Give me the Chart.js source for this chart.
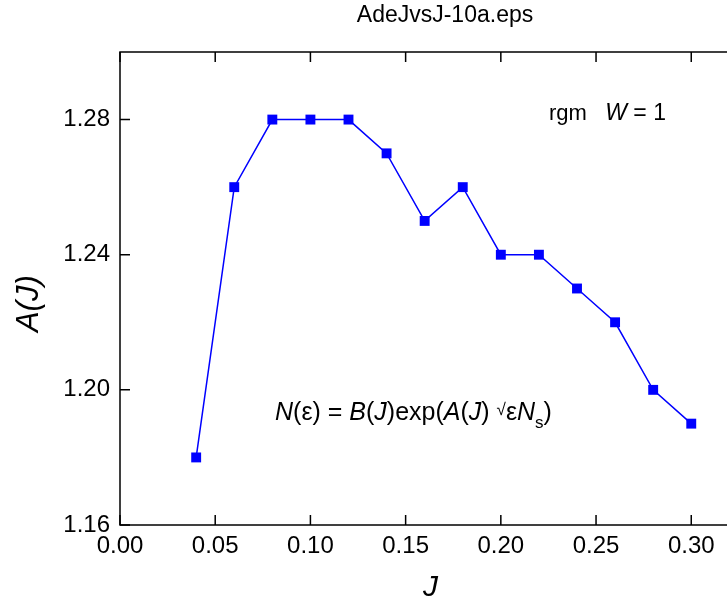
<!DOCTYPE html>
<html>
<head>
<meta charset="UTF-8">
<title>AdeJvsJ-10a</title>
<script src="https://cdn.jsdelivr.net/npm/chart.js"></script>
<style>
  html, body { margin: 0; padding: 0; background: #fff; overflow: hidden; }
  #wrap { width: 890px; height: 605px; }
</style>
</head>
<body>
<div id="wrap"><canvas id="chart"></canvas></div>
<script>
const jValues = [0.04, 0.06, 0.08, 0.10, 0.12, 0.14, 0.16, 0.18, 0.20, 0.22, 0.24, 0.26, 0.28, 0.30];
const aValues = [1.18, 1.26, 1.28, 1.28, 1.28, 1.27, 1.25, 1.26, 1.24, 1.24, 1.23, 1.22, 1.20, 1.19];
const xTicks = [0.00, 0.05, 0.10, 0.15, 0.20, 0.25, 0.30];
const yTicks = [1.16, 1.20, 1.24, 1.28];

const FONT = "'Liberation Sans', Arial, sans-serif";

// frame, inward ticks, axis titles and the two text labels
const decor = {
  id: "decor",
  afterDraw(chart) {
    const ctx = chart.ctx;
    const a = chart.chartArea;
    const x = chart.scales.x, y = chart.scales.y;
    ctx.save();
    ctx.strokeStyle = "#000";
    ctx.lineWidth = 1.5;
    ctx.strokeRect(a.left, a.top, a.right - a.left, a.bottom - a.top);
    ctx.beginPath();
    xTicks.forEach(v => {
      const px = x.getPixelForValue(v);
      ctx.moveTo(px, a.bottom); ctx.lineTo(px, a.bottom - 10);
      ctx.moveTo(px, a.top); ctx.lineTo(px, a.top + 10);
    });
    yTicks.forEach(v => {
      const py = y.getPixelForValue(v);
      ctx.moveTo(a.left, py); ctx.lineTo(a.left + 10, py);
    });
    ctx.stroke();

    ctx.fillStyle = "#000";
    ctx.textBaseline = "middle";
    const runs = (list, sx, sy) => {
      let cx = sx;
      list.forEach(r => {
        ctx.font = r.f;
        ctx.fillText(r.t, cx, sy + (r.dy || 0));
        cx += ctx.measureText(r.t).width;
      });
    };

    // axis titles
    ctx.textAlign = "center";
    ctx.font = "italic 30px " + FONT;
    ctx.fillText("J", x.getPixelForValue(0.163), 588);
    ctx.save();
    ctx.translate(29, y.getPixelForValue(1.2255));
    ctx.rotate(-Math.PI / 2);
    ctx.font = "italic 31px " + FONT;
    ctx.fillText("A(J)", 0, 0);
    ctx.restore();
    ctx.textAlign = "left";

    // rgm  W = 1
    runs([
      { t: "rgm   ", f: "22px " + FONT },
      { t: "W", f: "italic 23px " + FONT },
      { t: " = 1", f: "23px " + FONT }
    ], x.getPixelForValue(0.2253), y.getPixelForValue(1.2818));

    // formula
    const F = "25px " + FONT, I = "italic 25px " + FONT;
    runs([
      { t: "N", f: I },
      { t: "(ε) = ", f: F },
      { t: "B", f: I },
      { t: "(", f: F },
      { t: "J", f: I },
      { t: ")exp(", f: F },
      { t: "A", f: I },
      { t: "(", f: F },
      { t: "J", f: I },
      { t: ") ", f: F },
      { t: "√", f: "17px " + FONT, dy: -3 },
      { t: "ε", f: F },
      { t: "N", f: I },
      { t: "s", f: "17px " + FONT, dy: 10 },
      { t: ")", f: F }
    ], x.getPixelForValue(0.0814), y.getPixelForValue(1.1931));
    ctx.restore();
  }
};

new Chart(document.getElementById("chart"), {
  type: "line",
  data: {
    datasets: [{
      data: jValues.map((j, i) => ({ x: j, y: aValues[i] })),
      borderColor: "#0000ff",
      backgroundColor: "#0000ff",
      borderWidth: 1.5,
      pointStyle: "rect",
      pointRadius: 7,
      pointHoverRadius: 7,
      pointBorderWidth: 0,
      tension: 0
    }]
  },
  options: {
    responsive: true,
    maintainAspectRatio: false,
    animation: false,
    events: [],
    layout: { padding: 0 },
    plugins: {
      legend: { display: false },
      tooltip: { enabled: false },
      title: {
        display: true,
        text: "AdeJvsJ-10a.eps",
        color: "#000",
        font: { family: FONT, size: 23, weight: "normal" },
        padding: { top: 2, bottom: 22.4 }
      }
    },
    scales: {
      x: {
        type: "linear",
        min: 0,
        max: 0.4007,
        afterBuildTicks: s => { s.ticks = xTicks.map(v => ({ value: v })); },
        afterFit: s => { s.height = 80; },
        grid: { display: true, drawOnChartArea: false, drawTicks: false },
        border: { display: false },
        ticks: {
          color: "#000",
          padding: 7,
          maxRotation: 0,
          font: { family: FONT, size: 24 },
          callback: v => v.toFixed(2)
        }
      },
      y: {
        type: "linear",
        min: 1.16,
        max: 1.30,
        afterBuildTicks: s => { s.ticks = yTicks.map(v => ({ value: v })); },
        afterFit: s => { s.width = 120; },
        grid: { display: true, drawOnChartArea: false, drawTicks: false },
        border: { display: false },
        ticks: {
          color: "#000",
          padding: 10,
          font: { family: FONT, size: 24 },
          callback: v => v.toFixed(2)
        }
      }
    }
  },
  plugins: [decor]
});
</script>
</body>
</html>
